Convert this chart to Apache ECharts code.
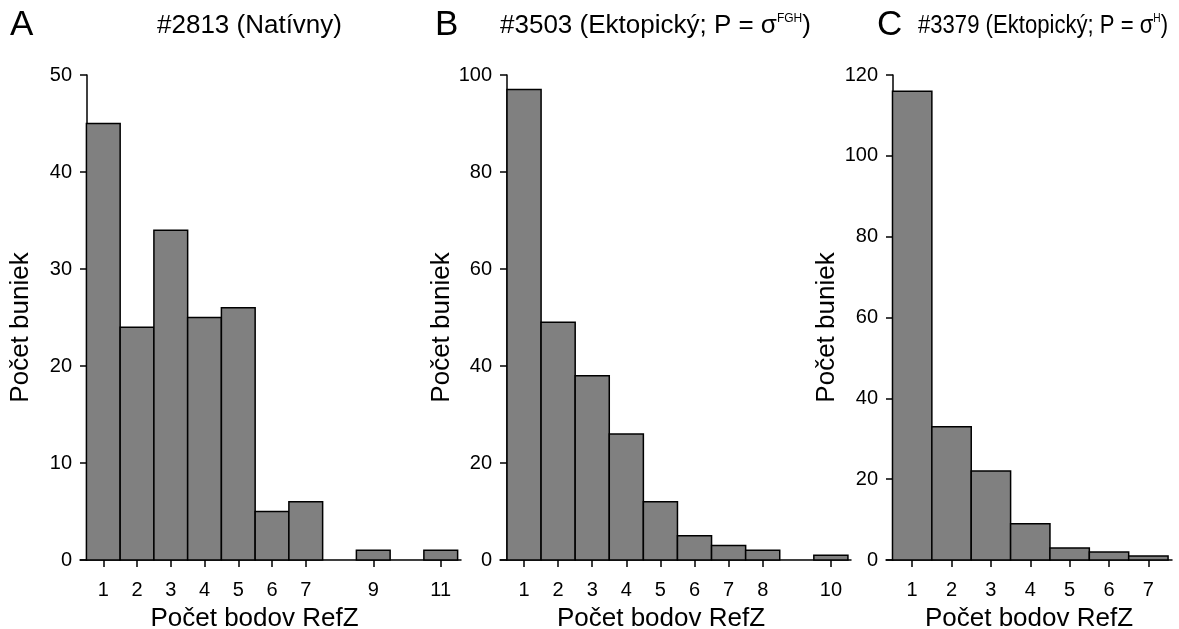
<!DOCTYPE html>
<html>
<head>
<meta charset="utf-8">
<title>Počet bodov RefZ</title>
<script src="https://cdn.jsdelivr.net/npm/echarts@6/dist/echarts.min.js"></script>
<style>
  html, body { margin: 0; padding: 0; background: #fff; }
  #chart { width: 1179px; height: 629px; }
</style>
</head>
<body>
<div id="chart"></div>
<script>
// Histogram data: number of RefZ points per cell, three cells
const pointsA = [1, 2, 3, 4, 5, 6, 7, 8, 9, 10, 11];
const cellsA  = [45, 24, 34, 25, 26, 5, 6, 0, 1, 0, 1];
const ticksA  = [1, 2, 3, 4, 5, 6, 7, 9, 11];

const pointsB = [1, 2, 3, 4, 5, 6, 7, 8, 9, 10];
const cellsB  = [97, 49, 38, 26, 12, 5, 3, 2, 0, 1];
const ticksB  = [1, 2, 3, 4, 5, 6, 7, 8, 10];

const pointsC = [1, 2, 3, 4, 5, 6, 7];
const cellsC  = [116, 33, 22, 9, 3, 2, 1];
const ticksC  = [1, 2, 3, 4, 5, 6, 7];

const yMaxA = 50, yStepA = 10;
const yMaxB = 100, yStepB = 20;
const yMaxC = 120, yStepC = 20;

const FONT = '"Liberation Sans", Arial, sans-serif';
const xName = 'Počet bodov RefZ';
const yName = 'Počet buniek';

const chart = echarts.init(document.getElementById('chart'), null, { renderer: 'canvas' });

// panel geometry: grid box and the x range (axis line runs a little past the outer bars)
const panels = [
  { points: pointsA, cells: cellsA, ticks: ticksA, yMax: yMaxA, yStep: yStepA,
    left: 80, width: 381, xMin: 0.31, xMax: 11.6, yOffset: -7, nameGapY: 53, namePadX: [0, 32, 0, 0] },
  { points: pointsB, cells: cellsB, ticks: ticksB, yMax: yMaxB, yStep: yStepB,
    left: 500, width: 351, xMin: 0.295, xMax: 10.59, yOffset: -7, nameGapY: 50, namePadX: [0, 29, 0, 0] },
  { points: pointsC, cells: cellsC, ticks: ticksC, yMax: yMaxC, yStep: yStepC,
    left: 886, width: 286, xMin: 0.335, xMax: 7.6, yOffset: -7, nameGapY: 53, namePadX: [0, 0, 0, 0] }
];

const axisLine = { show: true, onZero: false, lineStyle: { color: '#000', width: 1.5 } };
const axisTick = { show: true, inside: false, length: 7, lineStyle: { color: '#000', width: 1.5 } };
const labelStyle = { color: '#000', fontFamily: FONT, fontSize: 20 };

function renderBar(params, api) {
  const x = api.value(0);
  const y = api.value(1);
  if (!y) return null;
  const topLeft = api.coord([x - 0.5, y]);
  const bottomRight = api.coord([x + 0.5, 0]);
  return {
    type: 'rect',
    shape: {
      x: topLeft[0],
      y: topLeft[1],
      width: bottomRight[0] - topLeft[0],
      height: bottomRight[1] - topLeft[1]
    },
    style: { fill: '#808080', stroke: '#000', lineWidth: 1.5 }
  };
}

const grid = [], xAxis = [], yAxis = [], series = [];
panels.forEach((p, i) => {
  grid.push({ left: p.left, top: 75, width: p.width, height: 485, containLabel: false, outerBoundsMode: 'none' });
  xAxis.push({
    type: 'value', gridIndex: i, min: p.xMin, max: p.xMax,
    splitLine: { show: false },
    axisLine: axisLine,
    axisTick: Object.assign({}, axisTick, { customValues: p.ticks }),
    axisLabel: Object.assign({}, labelStyle, { customValues: p.ticks, margin: 20, showMinLabel: true, showMaxLabel: true }),
    name: xName, nameLocation: 'middle', nameGap: 46,
    nameTextStyle: { color: '#000', fontFamily: FONT, fontSize: 26, padding: p.namePadX }
  });
  yAxis.push({
    type: 'value', gridIndex: i, min: 0, max: p.yMax, interval: p.yStep,
    offset: p.yOffset,
    splitLine: { show: false },
    axisLine: axisLine,
    axisTick: axisTick,
    axisLabel: Object.assign({}, labelStyle, { margin: 15 }),
    name: yName, nameLocation: 'middle', nameGap: p.nameGapY, nameRotate: 90,
    nameTextStyle: { color: '#000', fontFamily: FONT, fontSize: 26, padding: [0, 20, 0, 0] }
  });
  series.push({
    type: 'custom', xAxisIndex: i, yAxisIndex: i,
    renderItem: renderBar,
    encode: { x: 0, y: 1 },
    data: p.points.map((pt, k) => [pt, p.cells[k]]),
    clip: false
  });
});

// panel letters and headings
const titleRich = {
  sup: { fontFamily: FONT, fontSize: 12, color: '#000', verticalAlign: 'top', padding: [0, 0, 13, 0] }
};
function heading(left, text, scaleX) {
  return {
    type: 'text', x: left, y: 13, scaleX: scaleX || 1,
    style: { text: text, fontFamily: FONT, fontSize: 26, fill: '#000', rich: titleRich }
  };
}
function letter(left, text) {
  return {
    type: 'text', x: left, y: 8,
    style: { text: text, fontFamily: FONT, fontSize: 35, fill: '#000' }
  };
}

chart.setOption({
  animation: false,
  backgroundColor: '#fff',
  grid: grid,
  xAxis: xAxis,
  yAxis: yAxis,
  series: series,
  graphic: [
    letter(10, 'A'),
    heading(157, '#2813 (Natívny)'),
    letter(435, 'B'),
    heading(500, '#3503 (Ektopický; P = σ{sup|FGH})'),
    letter(877, 'C'),
    heading(918, '#3379 (Ektopický; P = σ{sup|H})', 0.85)
  ]
});
</script>
</body>
</html>
